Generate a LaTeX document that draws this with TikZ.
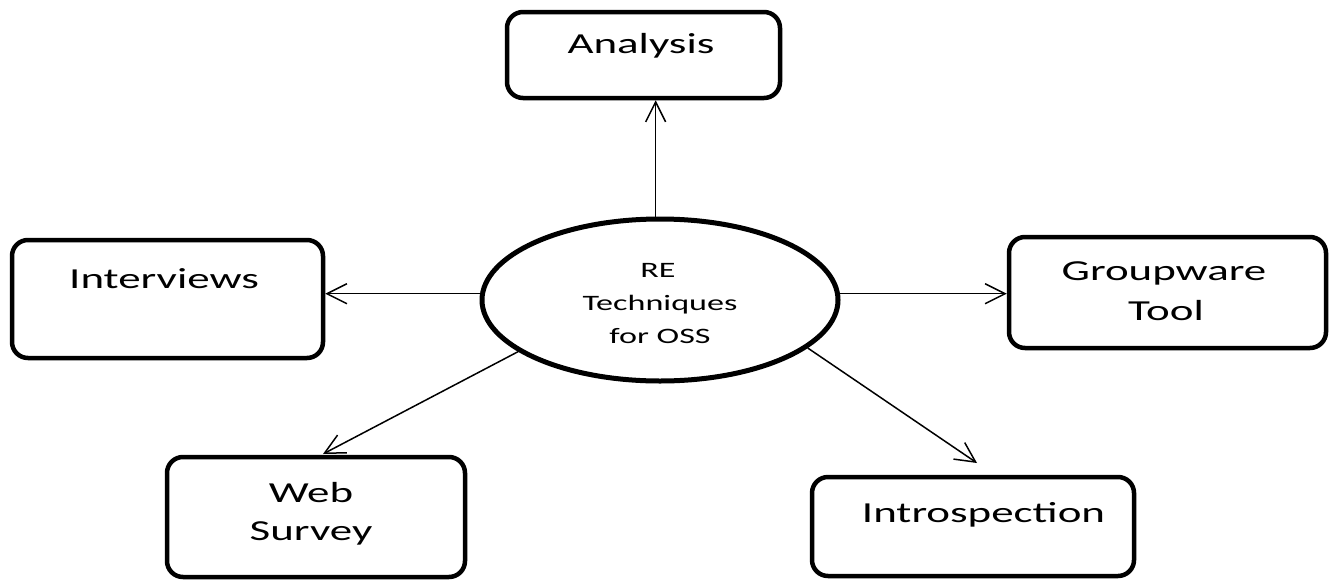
\documentclass[tikz,border=0pt]{standalone}
\usepackage{fontspec}
\setmainfont{Carlito}[FakeStretch=1.55]
\usetikzlibrary{shapes.geometric,arrows.meta}
\begin{document}
\begin{tikzpicture}[x=1pt,y=-1pt,
  box/.style={draw,line width=4.5pt,rounded corners=16pt,inner sep=0pt},
  hub/.style={draw,ellipse,line width=5pt,inner sep=0pt,
    minimum width=356pt,minimum height=162pt},
  lbl/.style={anchor=base,inner sep=0pt,font=\fontsize{29}{35}\selectfont},
  hublbl/.style={anchor=base,inner sep=0pt,font=\fontsize{22}{26}\selectfont},
  link/.style={line width=1.5pt,-{Straight Barb[length=20pt,width=20pt]}}]
\useasboundingbox (0,0) rectangle (1332,581);
\fill[white] (0,0) rectangle (1332,581);

% central technique hub
\node[hub] (re) at (660,300) {};
\node[hublbl] (re1) at (658,277) {RE};
\node[hublbl] (re2) at (660,310) {Techniques};
\node[hublbl] (re3) at (660,343) {for OSS};

% surrounding technique boxes
\node[box,minimum width=273pt,minimum height=86pt] (ana) at (643.5,55) {};
\node[lbl] at (641,53) {Analysis};

\node[box,minimum width=311pt,minimum height=118pt] (int) at (167.5,299) {};
\node[lbl] at (164,288) {Interviews};

\node[box,minimum width=317pt,minimum height=111pt] (grp) at (1167.5,292.5) {};
\node[lbl] at (1164,280) {Groupware};
\node[lbl] at (1166,320) {Tool};

\node[box,minimum width=298pt,minimum height=120pt] (web) at (316,517) {};
\node[lbl] at (311,502) {Web};
\node[lbl] at (311,540) {Survey};

\node[box,minimum width=322pt,minimum height=99pt] (itr) at (973,526.5) {};
\node[lbl] at (983.5,522) {Introspection};

% connectors
\coordinate (webtip) at (323,454);
\coordinate (itrtip) at (977,463);
\draw[link] (re.93) -- (re.93 |- ana.south);
\draw[link] (re.178) -- (re.178 -| int.east);
\draw[link] (re.2) -- (re.2 -| grp.west);
\draw[link] (re.200) -- (webtip);
\draw[link] (re.342) -- (itrtip);
\end{tikzpicture}
\end{document}
